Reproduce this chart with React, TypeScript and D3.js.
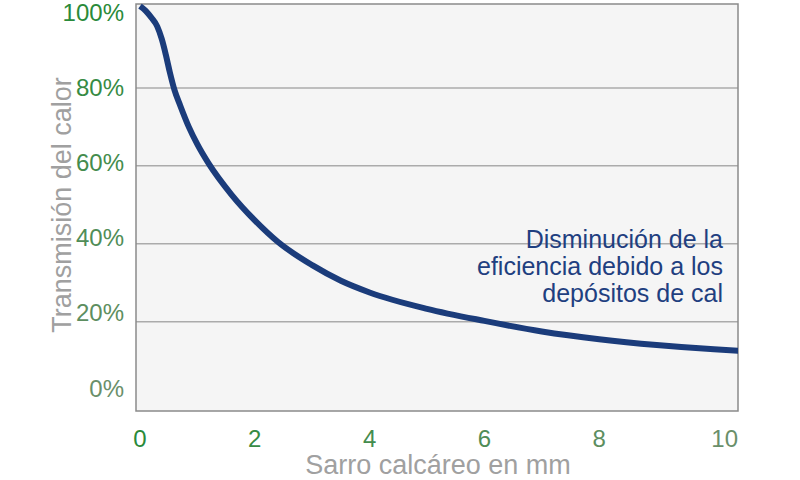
import React from "react";
import * as d3 from "d3";

const thicknessMm = [0, 0.1, 0.2, 0.3, 0.38, 0.45, 0.52, 0.6, 0.7, 0.85, 1.0, 1.2, 1.6, 2.0, 2.4, 3.0, 3.5, 4.0, 5.0, 6.0, 7.0, 8.0, 9.0, 10.0, 10.5];
const transmission = [101, 99.8, 98, 95.8, 92.5, 88.5, 84, 79.5, 75.5, 70, 65.5, 60.5, 52.5, 46, 40.5, 34.5, 30.5, 27.5, 23.3, 20.2, 17.5, 15.5, 14.0, 12.9, 12.5];

const xTicks = [0, 2, 4, 6, 8, 10];
const yTicks = [0, 20, 40, 60, 80, 100];
const gridTicks = [20, 40, 60, 80];
const xTitle = "Sarro calcáreo en mm";
const yTitle = "Transmisión del calor";
const noteLines = ["Disminución de la", "eficiencia debido a los", "depósitos de cal"];

const W = 800;
const H = 480;
const plot = { left: 136, right: 738, top: 4, bottom: 411 };
const FONT = "'Liberation Sans', Arial, sans-serif";

export default function App() {
  const x = d3.scaleLinear().domain([0, 10]).range([140, 714]);
  const y = d3.scaleLinear().domain([0, 100]).range([399.6, 10]);
  const yLabel = d3.scaleLinear().domain([0, 100]).range([388, 12]);
  const tickColor = d3.interpolateRgb("#2a8a3a", "#6a8f6a");

  const pts = thicknessMm.map((t, i) => [t, transmission[i]] as [number, number]);
  const line = d3
    .line<[number, number]>()
    .x((d) => x(d[0]))
    .y((d) => y(d[1]))
    .curve(d3.curveMonotoneX);

  return (
    <svg width={W} height={H} style={{ position: "absolute", left: 0, top: 0, background: "#fff" }}>
      <defs>
        <clipPath id="plotClip">
          <rect x={plot.left} y={plot.top - 4} width={plot.right - plot.left} height={plot.bottom - plot.top + 4} />
        </clipPath>
      </defs>
      <rect x={plot.left} y={plot.top} width={plot.right - plot.left} height={plot.bottom - plot.top} fill="#f5f5f5" />
      {gridTicks.map((t) => (
        <line key={t} x1={plot.left} x2={plot.right} y1={y(t)} y2={y(t)} stroke="#ababab" strokeWidth={1.5} />
      ))}
      <rect
        x={plot.left}
        y={plot.top}
        width={plot.right - plot.left}
        height={plot.bottom - plot.top}
        fill="none"
        stroke="#8a8a8a"
        strokeWidth={1.5}
      />
      <path
        d={line(pts) || ""}
        fill="none"
        stroke="#1b3c7b"
        strokeWidth={6}
        strokeLinejoin="round"
        clipPath="url(#plotClip)"
      />
      {yTicks.map((t, i) => (
        <text
          key={t}
          x={124}
          y={yLabel(t)}
          dy="0.36em"
          textAnchor="end"
          fontFamily={FONT}
          fontSize={24}
          fill={tickColor(1 - i / (yTicks.length - 1))}
        >
          {t}%
        </text>
      ))}
      {xTicks.map((t, i) => {
        const last = i === xTicks.length - 1;
        return (
          <text
            key={t}
            x={last ? plot.right : x(t)}
            y={447}
            textAnchor={last ? "end" : "middle"}
            fontFamily={FONT}
            fontSize={24}
            fill={tickColor(i / (xTicks.length - 1))}
          >
            {t}
          </text>
        );
      })}
      <text x={438} y={474} textAnchor="middle" fontFamily={FONT} fontSize={27} fill="#a0a0a0">
        {xTitle}
      </text>
      <text
        transform={`translate(71,${205}) rotate(-90)`}
        textAnchor="middle"
        fontFamily={FONT}
        fontSize={27}
        fill="#a0a0a0"
      >
        {yTitle}
      </text>
      {noteLines.map((s, i) => (
        <text key={s} x={723} y={248 + i * 27} textAnchor="end" fontFamily={FONT} fontSize={25} fill="#1f3f80">
          {s}
        </text>
      ))}
    </svg>
  );
}
